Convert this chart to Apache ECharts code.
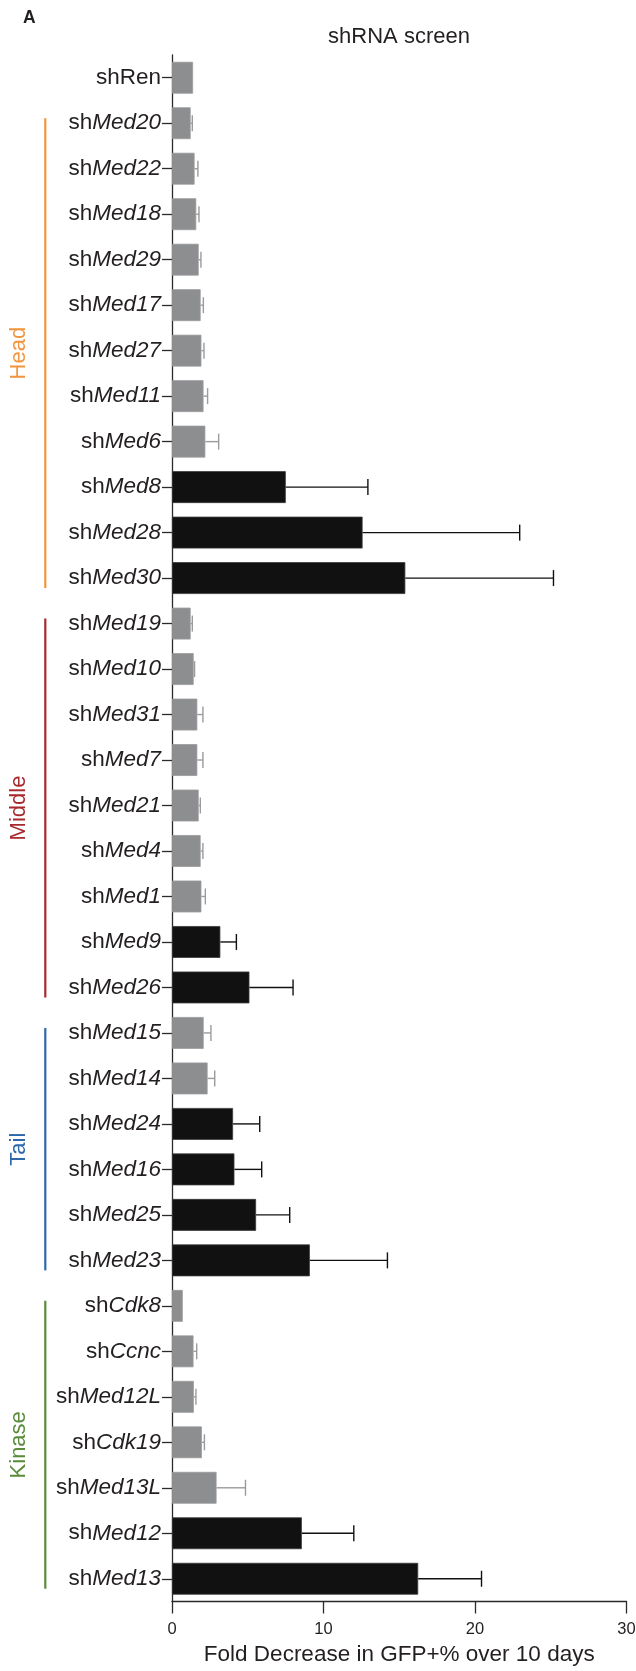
<!DOCTYPE html>
<html>
<head>
<meta charset="utf-8">
<script src="https://cdn.jsdelivr.net/npm/echarts@6/dist/echarts.min.js"></script>
<style>
html,body{margin:0;padding:0;background:#fff;}
#chart{width:636px;height:1671px;}
</style>
</head>
<body>
<div id="chart"></div>
<script>
// ---- data ----
var genes = ['Ren','Med20','Med22','Med18','Med29','Med17','Med27','Med11','Med6','Med8','Med28','Med30',
  'Med19','Med10','Med31','Med7','Med21','Med4','Med1','Med9','Med26',
  'Med15','Med14','Med24','Med16','Med25','Med23',
  'Cdk8','Ccnc','Med12L','Cdk19','Med13L','Med12','Med13'];
var categories = genes.map(function (g) { return 'sh' + g; });
var foldDecrease = [1.39,1.23,1.49,1.60,1.76,1.89,1.94,2.08,2.20,7.51,12.58,15.40,
  1.23,1.43,1.67,1.67,1.76,1.89,1.94,3.19,5.11,
  2.09,2.35,4.03,4.12,5.55,9.10,
  0.71,1.42,1.44,1.97,2.94,8.57,16.25];
var errorSD = [0,0.11,0.22,0.18,0.15,0.18,0.17,0.27,0.88,5.42,10.37,9.78,
  0.11,0.06,0.37,0.37,0.11,0.15,0.26,1.06,2.88,
  0.48,0.47,1.76,1.80,2.22,5.12,
  0,0.21,0.14,0.17,1.91,3.43,4.18];
var isHit = [0,0,0,0,0,0,0,0,0,1,1,1,
  0,0,0,0,0,0,0,1,1,
  0,0,1,1,1,1,
  0,0,0,0,0,1,1];
var groupNames = ['Head','Middle','Tail','Kinase'];
var groupStart = [1,12,21,27];
var groupEnd = [11,20,26,33];
var groupColors = ['#f0963f','#a8292d','#2d68ab','#5a8b3a'];
var xTicks = [0,10,20,30];

var FONT = 'Liberation Sans, Arial, Helvetica, sans-serif';
var TXT = '#231f20';
var GRAY = '#8d8e90';
var BLACK = '#111111';

var chart = echarts.init(document.getElementById('chart'), null, {renderer: 'canvas'});

var barData = foldDecrease.map(function (v, i) {
  return {value: v, itemStyle: {color: isHit[i] ? BLACK : GRAY, borderColor: isHit[i] ? '#3a3a3a' : '#9a9b9d', borderWidth: 0.8}};
});
var errData = foldDecrease.map(function (v, i) {
  return [i, v, v + errorSD[i], isHit[i]];
});
var groupData = groupNames.map(function (n, i) {
  return [groupStart[i], groupEnd[i], i];
});

var option = {
  animation: false,
  backgroundColor: '#fff',
  grid: {left: 172, top: 55, right: 9.5, bottom: 69.5, containLabel: false, outerBoundsMode: 'none'},
  graphic: [
    {type: 'text', left: 23, top: 9, style: {text: 'A', font: 'bold 17.5px ' + FONT, fill: TXT}},
    {type: 'text', x: 399, y: 37, style: {text: 'shRNA screen', font: '22px ' + FONT, fill: TXT, textAlign: 'center', textVerticalAlign: 'middle'}}
  ],
  xAxis: {
    type: 'value', min: xTicks[0], max: xTicks[xTicks.length - 1], interval: 10,
    name: 'Fold Decrease in GFP+% over 10 days',
    nameLocation: 'middle', nameGap: 42,
    nameTextStyle: {fontFamily: FONT, fontSize: 22.5, color: TXT},
    axisLine: {show: true, lineStyle: {color: '#2a2a2a', width: 1.3}},
    axisTick: {show: true, length: 12, lineStyle: {color: '#2a2a2a', width: 1.3}},
    axisLabel: {fontFamily: FONT, fontSize: 16.5, color: TXT, margin: 19},
    splitLine: {show: false}
  },
  yAxis: {
    type: 'category', data: categories, inverse: true,
    axisLine: {show: true, lineStyle: {color: '#2a2a2a', width: 1.3}},
    axisTick: {show: true, alignWithLabel: true, length: 10, lineStyle: {color: '#2a2a2a', width: 1.3}},
    axisLabel: {
      margin: 11, interval: 0,
      formatter: function (v, i) {
        var g = v.slice(2);
        if (g === 'Ren') return '{n|shRen}';
        return '{n|sh}{i|' + g + '}';
      },
      rich: {
        n: {fontFamily: FONT, fontSize: 22.5, color: TXT},
        i: {fontFamily: FONT, fontSize: 22.5, fontStyle: 'italic', color: TXT}
      }
    }
  },
  series: [
    {
      type: 'bar', data: barData, barCategoryGap: '30%'
    },
    {
      type: 'custom', data: errData, encode: {x: [1, 2], y: 0}, z: 3,
      renderItem: function (params, api) {
        var idx = api.value(0), m = api.value(1), u = api.value(2), hit = api.value(3);
        if (u <= m) return null;
        var p0 = api.coord([m, idx]);
        var p1 = api.coord([u, idx]);
        var col = hit ? BLACK : '#9b9b9b';
        var st = {stroke: col, lineWidth: 1.4};
        return {
          type: 'group',
          children: [
            {type: 'line', shape: {x1: p0[0], y1: p0[1], x2: p1[0], y2: p1[1]}, style: st},
            {type: 'line', shape: {x1: p1[0], y1: p1[1] - 8, x2: p1[0], y2: p1[1] + 8}, style: st}
          ]
        };
      }
    },
    {
      type: 'custom', data: groupData, encode: {y: [0, 1]}, clip: false, silent: true,
      renderItem: function (params, api) {
        var s = api.value(0), e = api.value(1), gi = api.value(2);
        var y1 = api.coord([0, s])[1] - 5;
        var y2 = api.coord([0, e])[1] + 10;
        var col = groupColors[gi];
        return {
          type: 'group',
          children: [
            {type: 'line', shape: {x1: 45.3, y1: y1, x2: 45.3, y2: y2}, style: {stroke: col, lineWidth: 2.2}},
            {type: 'text', x: 18.5, y: (y1 + y2) / 2, rotation: Math.PI / 2,
             style: {text: groupNames[gi], font: '22px ' + FONT, fill: col, textAlign: 'center', textVerticalAlign: 'middle'}}
          ]
        };
      }
    }
  ]
};
chart.setOption(option);
</script>
</body>
</html>
